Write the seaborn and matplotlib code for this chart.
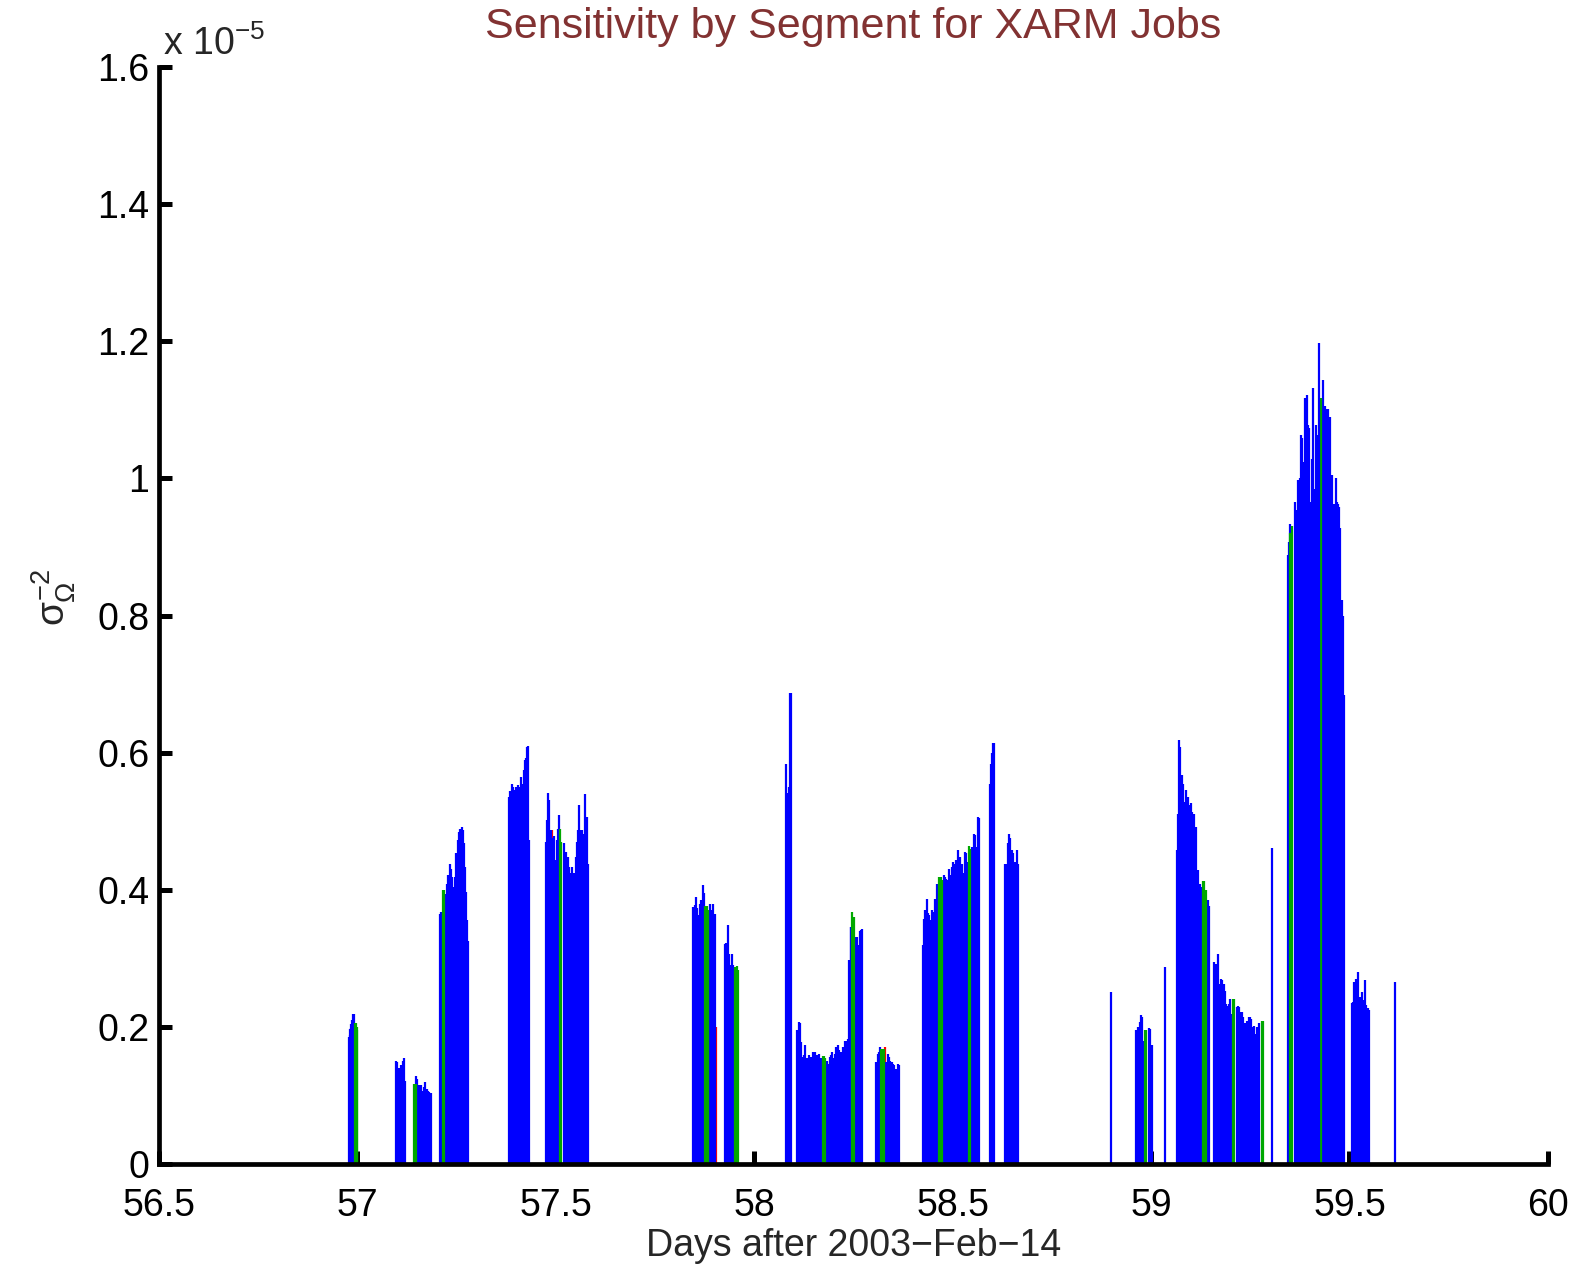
import matplotlib
matplotlib.use("Agg")
import matplotlib.pyplot as plt
import seaborn as sns
import pandas as pd
from matplotlib.ticker import FuncFormatter, MultipleLocator

# segment start (days after 2003-Feb-14) and sensitivity (x 1e-5)
blue_days = [
    # ~57.0
    56.9792, 56.9805, 56.9820, 56.9834, 56.9848, 56.9862, 56.9876, 56.9890, 56.9904, 56.9918, 56.9932,
    # ~57.1
    57.0976, 57.1010, 57.1052, 57.1080, 57.1102, 57.1144, 57.1178, 57.1203,
    # ~57.16
    57.1480, 57.1514, 57.1547, 57.1581, 57.1614, 57.1648, 57.1681, 57.1715, 57.1748, 57.1782, 57.1815, 57.1849,
    # ~57.25
    57.2084, 57.2118, 57.2235, 57.2260, 57.2294, 57.2328, 57.2361, 57.2395, 57.2428, 57.2462, 57.2495,
    57.2529, 57.2563, 57.2596, 57.2630, 57.2663, 57.2688, 57.2714, 57.2739, 57.2764, 57.2789,
    # ~57.4
    57.3822, 57.3855, 57.3889, 57.3923, 57.3956, 57.3990, 57.4023, 57.4057, 57.4090, 57.4124, 57.4158,
    57.4191, 57.4225, 57.4258, 57.4284, 57.4309, 57.4326,
    # ~57.53
    57.4753, 57.4787, 57.4812, 57.4837, 57.4871, 57.4930, 57.4963, 57.4997, 57.5031, 57.5056, 57.5081,
    57.5198, 57.5232, 57.5265, 57.5299, 57.5332, 57.5366, 57.5400, 57.5433, 57.5467, 57.5500, 57.5526,
    57.5551, 57.5576, 57.5601, 57.5635, 57.5668, 57.5702, 57.5736, 57.5761, 57.5786, 57.5811,
    # ~57.87
    57.8464, 57.8497, 57.8531, 57.8564, 57.8598, 57.8631, 57.8665, 57.8699, 57.8732,
    57.8883, 57.8917, 57.8950, 57.8984, 57.9018,
    # ~57.94
    57.9261, 57.9295, 57.9328, 57.9362, 57.9395, 57.9429, 57.9463, 57.9496,
    # ~58.09
    58.0797, 58.0831, 58.0864, 58.0906, 58.0932,
    # ~58.19
    58.1083, 58.1116, 58.1150, 58.1183, 58.1217, 58.1250, 58.1284, 58.1318, 58.1351, 58.1385, 58.1418,
    58.1452, 58.1485, 58.1519, 58.1553, 58.1586, 58.1620, 58.1653, 58.1687,
    58.1838, 58.1872, 58.1905, 58.1939, 58.1972, 58.2006, 58.2040, 58.2073, 58.2107, 58.2140, 58.2174,
    58.2207, 58.2241, 58.2275, 58.2308, 58.2342, 58.2375, 58.2400, 58.2426, 58.2451,
    58.2560, 58.2594, 58.2627, 58.2661, 58.2694, 58.2719,
    # ~58.34
    58.3080, 58.3114, 58.3148, 58.3181, 58.3332, 58.3366, 58.3399, 58.3433, 58.3466, 58.3500, 58.3534,
    58.3567, 58.3601, 58.3634, 58.3660,
    # ~58.5
    58.4255, 58.4281, 58.4314, 58.4348, 58.4381, 58.4415, 58.4448, 58.4482, 58.4516, 58.4549, 58.4583,
    58.4616, 58.4650, 58.4776, 58.4809, 58.4843, 58.4877, 58.4910, 58.4944, 58.4977, 58.5011, 58.5044,
    58.5078, 58.5112, 58.5145, 58.5179, 58.5212, 58.5246, 58.5279, 58.5313, 58.5347, 58.5380,
    58.5498, 58.5532, 58.5565, 58.5599, 58.5632, 58.5666,
    # ~58.6
    58.5934, 58.5959, 58.5985, 58.6010, 58.6035,
    58.6320, 58.6354, 58.6387, 58.6421, 58.6455, 58.6488, 58.6522, 58.6555, 58.6589, 58.6623, 58.6656,
    # ~58.9 - 59.0
    58.8990,
    58.9611, 58.9645, 58.9679, 58.9712, 58.9746, 58.9779, 58.9813, 58.9947, 58.9981, 59.0014,
    59.0342,
    # ~59.1
    59.0652, 59.0677, 59.0703, 59.0736, 59.0770, 59.0803, 59.0837, 59.0871, 59.0904, 59.0938, 59.0971,
    59.1005, 59.1038, 59.1072, 59.1106, 59.1139, 59.1173, 59.1206, 59.1240, 59.1273, 59.1424, 59.1450,
    # ~59.22
    59.1592, 59.1626, 59.1660, 59.1693, 59.1727, 59.1760, 59.1794, 59.1827, 59.1861, 59.1895, 59.1928,
    59.1962, 59.1995, 59.2029, 59.2155, 59.2188, 59.2222, 59.2256, 59.2289, 59.2323, 59.2356, 59.2390,
    59.2423, 59.2457, 59.2491, 59.2524, 59.2558, 59.2591, 59.2625, 59.2659, 59.2692, 59.2726,
    59.3055,
    # ~59.42
    59.3447, 59.3472, 59.3489, 59.3623, 59.3649, 59.3674, 59.3699, 59.3724, 59.3758, 59.3783, 59.3808,
    59.3842, 59.3867, 59.3892, 59.3926, 59.3951, 59.3984, 59.4018, 59.4052, 59.4085, 59.4119, 59.4152,
    59.4186, 59.4219, 59.4320, 59.4345, 59.4379, 59.4404, 59.4438, 59.4463, 59.4497, 59.4522, 59.4555,
    59.4589, 59.4614, 59.4648, 59.4673, 59.4706, 59.4732, 59.4765, 59.4799, 59.4832, 59.4857,
    # ~59.53
    59.5059, 59.5092, 59.5126, 59.5160, 59.5193, 59.5227, 59.5260, 59.5294, 59.5327, 59.5361, 59.5395,
    59.5428, 59.5462, 59.5495,
    59.6150,
]
blue_vals = [
    0.185, 0.188, 0.197, 0.199, 0.204, 0.204, 0.210, 0.219, 0.219, 0.171, 0.171,
    0.151, 0.149, 0.140, 0.140, 0.144, 0.150, 0.155, 0.121,
    0.128, 0.124, 0.115, 0.113, 0.115, 0.107, 0.112, 0.119, 0.110, 0.106, 0.105, 0.103,
    0.365, 0.368, 0.394, 0.409, 0.421, 0.438, 0.431, 0.419, 0.404, 0.419, 0.453,
    0.472, 0.485, 0.488, 0.491, 0.487, 0.468, 0.433, 0.397, 0.356, 0.325,
    0.536, 0.544, 0.555, 0.550, 0.545, 0.550, 0.548, 0.553, 0.550, 0.565, 0.555,
    0.575, 0.589, 0.592, 0.609, 0.610, 0.472,
    0.470, 0.502, 0.541, 0.531, 0.487, 0.475, 0.478, 0.443, 0.472, 0.489, 0.509,
    0.468, 0.433, 0.455, 0.448, 0.433, 0.424, 0.433, 0.416, 0.424, 0.448, 0.470,
    0.487, 0.524, 0.487, 0.485, 0.487, 0.482, 0.539, 0.506, 0.506, 0.438,
    0.375, 0.378, 0.389, 0.373, 0.363, 0.379, 0.385, 0.407, 0.395,
    0.380, 0.370, 0.380, 0.360, 0.365,
    0.321, 0.322, 0.348, 0.307, 0.290, 0.307, 0.291, 0.273,
    0.583, 0.541, 0.550, 0.687, 0.687,
    0.195, 0.207, 0.205, 0.178, 0.156, 0.159, 0.173, 0.154, 0.149, 0.159, 0.156,
    0.151, 0.163, 0.163, 0.154, 0.159, 0.161, 0.151, 0.154,
    0.151, 0.146, 0.156, 0.159, 0.163, 0.154, 0.161, 0.171, 0.173, 0.166, 0.163,
    0.161, 0.171, 0.180, 0.180, 0.168, 0.183, 0.297, 0.346, 0.346,
    0.331, 0.331, 0.319, 0.340, 0.341, 0.343,
    0.149, 0.161, 0.163, 0.171, 0.149, 0.161, 0.156, 0.151, 0.149, 0.146, 0.144,
    0.139, 0.137, 0.146, 0.145,
    0.319, 0.358, 0.370, 0.387, 0.366, 0.363, 0.356, 0.370, 0.368, 0.387, 0.382,
    0.409, 0.402, 0.421, 0.419, 0.416, 0.414, 0.430, 0.421, 0.433, 0.441, 0.438,
    0.443, 0.443, 0.458, 0.448, 0.433, 0.438, 0.424, 0.455, 0.453, 0.441,
    0.463, 0.482, 0.480, 0.463, 0.506, 0.504,
    0.555, 0.584, 0.599, 0.614, 0.614,
    0.438, 0.438, 0.468, 0.482, 0.475, 0.458, 0.453, 0.441, 0.441, 0.458, 0.438,
    0.251,
    0.195, 0.193, 0.200, 0.207, 0.217, 0.214, 0.180, 0.199, 0.197, 0.173,
    0.287,
    0.458, 0.511, 0.618, 0.609, 0.567, 0.555, 0.528, 0.545, 0.533, 0.536, 0.523,
    0.526, 0.514, 0.511, 0.492, 0.492, 0.429, 0.409, 0.409, 0.404, 0.385, 0.377,
    0.295, 0.292, 0.290, 0.307, 0.263, 0.270, 0.268, 0.263, 0.253, 0.234, 0.231,
    0.234, 0.241, 0.219, 0.229, 0.231, 0.229, 0.222, 0.222, 0.214, 0.205, 0.206,
    0.209, 0.214, 0.214, 0.212, 0.200, 0.202, 0.190, 0.200, 0.197, 0.205,
    0.461,
    0.889, 0.908, 0.933, 0.966, 0.954, 0.916, 0.997, 0.993, 1.001, 1.063, 1.059,
    1.024, 1.118, 1.117, 1.121, 1.078, 1.074, 0.966, 1.028, 1.132, 0.985, 1.078,
    1.063, 1.051, 0.970, 1.144, 1.105, 1.101, 1.078, 1.101, 1.090, 0.985, 1.005,
    0.908, 0.962, 1.001, 0.966, 0.962, 0.958, 0.927, 0.823, 0.800, 0.684,
    0.235, 0.237, 0.266, 0.270, 0.255, 0.280, 0.243, 0.242, 0.251, 0.239, 0.268,
    0.232, 0.228, 0.224,
    0.266,
]

# tallest single segment, drawn on top of the green one next to it
spike_days = [59.4240]
spike_vals = [1.198]

green_days = [56.9950, 56.9965, 56.9980, 56.9994, 57.1435, 57.1465, 57.2159, 57.2193,
              57.5110, 57.5140, 57.8766, 57.8800, 57.8833, 57.9521, 57.9555, 57.9588,
              58.1721, 58.1754, 58.1788, 58.2468, 58.2502, 58.3198, 58.3232, 58.3265,
              58.4667, 58.4700, 58.4734, 58.5405, 58.5439, 58.9846, 58.9880,
              59.1307, 59.1341, 59.1374, 59.2062, 59.2096, 59.2790, 59.2820,
              59.3510, 59.3545, 59.4250, 59.4285]
green_vals = [0.206, 0.206, 0.200, 0.195, 0.117, 0.117, 0.400, 0.400,
              0.488, 0.470, 0.377, 0.377, 0.370, 0.287, 0.289, 0.283,
              0.158, 0.158, 0.155, 0.368, 0.360, 0.168, 0.168, 0.168,
              0.419, 0.419, 0.415, 0.464, 0.460, 0.195, 0.195,
              0.413, 0.413, 0.400, 0.241, 0.241, 0.208, 0.208,
              0.920, 0.931, 1.117, 1.117]

red_days = [57.4905, 57.9034, 58.3290]
red_vals = [0.487, 0.200, 0.171]

xticks = [56.5, 57, 57.5, 58, 58.5, 59, 59.5, 60]

sns.set_theme(style="white")
plt.rcParams["font.family"] = ["Liberation Sans", "DejaVu Sans"]
plt.rcParams["mathtext.fontset"] = "custom"
plt.rcParams["mathtext.rm"] = "Liberation Sans"
plt.rcParams["mathtext.it"] = "Liberation Sans"
plt.rcParams["mathtext.sf"] = "Liberation Sans"

df = pd.concat([
    pd.DataFrame({"day": red_days, "sens": red_vals, "kind": "red"}),
    pd.DataFrame({"day": blue_days, "sens": blue_vals, "kind": "blue"}),
    pd.DataFrame({"day": green_days, "sens": green_vals, "kind": "green"}),
    pd.DataFrame({"day": spike_days, "sens": spike_vals, "kind": "blue2"}),
])
palette = {"red": "#ff0000", "blue": "#0000ff", "green": "#00a800", "blue2": "#0000ff"}

fig = plt.figure(figsize=(15.85, 12.65), dpi=100)
ax = fig.add_axes([0.1003, 0.0798, 0.8763, 0.8672])

for kind in ["red", "blue", "green", "blue2"]:
    d = df[df["kind"] == kind]
    ax.vlines(d["day"], 0, d["sens"], colors=palette[kind], linewidth=1.6)

ax.set_xlim(56.5, 60)
ax.set_ylim(0, 1.6)
ax.set_xticks(xticks)
ax.yaxis.set_major_locator(MultipleLocator(0.2))
fmt = FuncFormatter(lambda v, p: "%g" % round(v, 3))
ax.xaxis.set_major_formatter(fmt)
ax.yaxis.set_major_formatter(fmt)
ax.set_axisbelow(True)

sns.despine(ax=ax)
for s in ["left", "bottom"]:
    ax.spines[s].set_linewidth(3.4)
    ax.spines[s].set_color("black")
ax.tick_params(direction="in", length=9.5, width=3.6, colors="black",
               labelsize=27, pad=7, left=True, bottom=True)
ax.tick_params(axis="x", pad=17)

ax.set_title("Sensitivity by Segment for XARM Jobs", fontsize=31,
             color="#823232", pad=21)
ax.set_xlabel("Days after 2003\u2212Feb\u221214", fontsize=27, labelpad=3)
ax.set_ylabel(r"$\sigma_{\Omega}^{-2}$", fontsize=28)
ax.yaxis.set_label_coords(-0.058, 0.517)
ax.text(0.003, 1.004, "x 10$^{-5}$", transform=ax.transAxes,
        fontsize=27, ha="left", va="bottom")

fig.savefig("out.png", dpi=100)
